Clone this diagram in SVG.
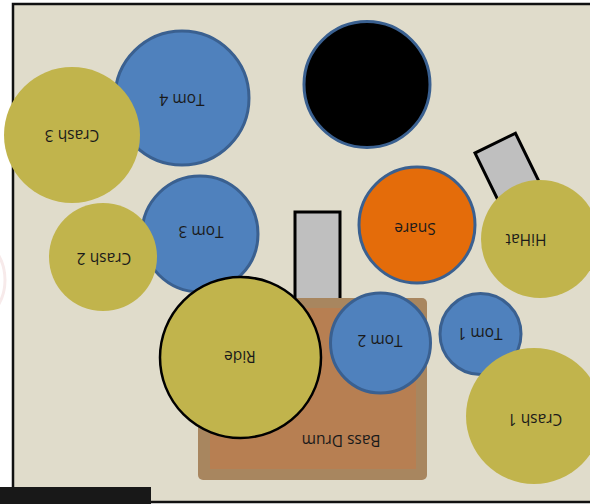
<svg xmlns="http://www.w3.org/2000/svg" width="590" height="504" viewBox="0 0 590 504">
<style>
.tom{fill:#4f81bd;stroke:#3a6090;stroke-width:3}
.cym{fill:#c1b44c}
.stand{fill:#bfbfbf;stroke:#000;stroke-width:3}
.lbl{font-family:"Open Sans","Liberation Sans",sans-serif;font-size:15.5px;fill:#1a1a1a;text-anchor:middle;dominant-baseline:central}
</style>
<rect width="590" height="504" fill="#fff"/>
<circle cx="-45" cy="280" r="50" fill="none" stroke="#f7eaea" stroke-width="3"/>
<rect id="floor" x="13" y="4" width="600" height="498" fill="#e0dccb" stroke="#111" stroke-width="2.5"/>
<rect x="0" y="487" width="151" height="17" fill="#181818"/>
<g id="connectors"></g>
<g id="hihat-stand"><rect class="stand" transform="translate(475,153) rotate(-26)" width="45" height="90"/></g>
<g id="kick-stand"><rect class="stand" x="295" y="212" width="45" height="95"/></g>
<g id="bass-drum">
<rect x="198" y="298" width="229" height="182" rx="5" fill="#a8865f"/>
<rect x="210" y="308" width="206" height="161" fill="#b77f52"/>
<text class="lbl" transform="translate(341,441) rotate(180)">Bass Drum</text>
</g>
<g id="tom4"><circle class="tom" cx="182" cy="98" r="67"/><text class="lbl" transform="translate(182,100) rotate(180)">Tom 4</text></g>
<g id="crash3"><circle class="cym" cx="72" cy="135" r="68"/><text class="lbl" transform="translate(72,136) rotate(180)">Crash 3</text></g>
<g id="tom3"><circle class="tom" cx="200" cy="234" r="58"/><text class="lbl" transform="translate(201,232) rotate(180)">Tom 3</text></g>
<g id="crash2"><circle class="cym" cx="103" cy="257" r="54"/><text class="lbl" transform="translate(104,259) rotate(180)">Crash 2</text></g>
<g id="black-drum"><circle cx="367" cy="84.5" r="63" fill="#000" stroke="#3a6090" stroke-width="3"/></g>
<g id="snare"><circle cx="417" cy="225" r="58" fill="#e46c0a" stroke="#3a6090" stroke-width="3"/><text class="lbl" transform="translate(415,229) rotate(180)">Snare</text></g>
<g id="hihat"><circle class="cym" cx="540" cy="239" r="59"/><text class="lbl" transform="translate(526,240) rotate(180)">HiHat</text></g>
<g id="ride"><circle class="cym" cx="240.5" cy="357.5" r="80.5" stroke="#000" stroke-width="2.5"/><text class="lbl" transform="translate(240,357) rotate(180)">Ride</text></g>
<g id="tom2"><circle class="tom" cx="380.5" cy="343" r="50"/><text class="lbl" transform="translate(380,341) rotate(180)">Tom 2</text></g>
<g id="tom1"><circle class="tom" cx="480.5" cy="334" r="40.5"/><text class="lbl" transform="translate(480,334) rotate(180)">Tom 1</text></g>
<g id="crash1"><circle class="cym" cx="534" cy="416" r="68"/><text class="lbl" transform="translate(535,420) rotate(180)">Crash 1</text></g>
</svg>
